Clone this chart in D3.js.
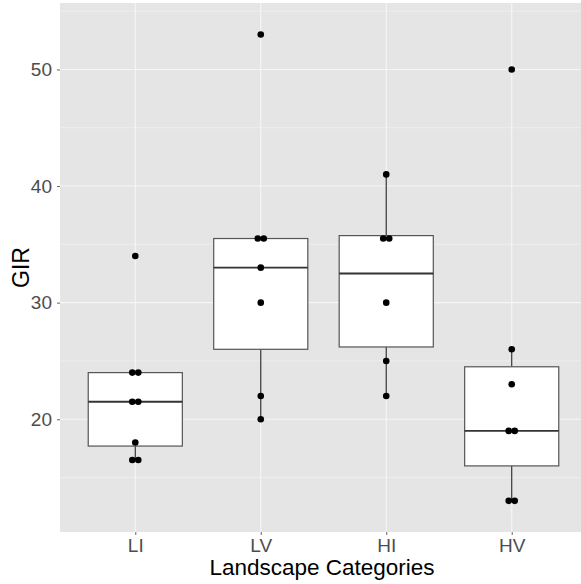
<!DOCTYPE html>
<html>
<head>
<meta charset="utf-8">
<script src="https://cdn.jsdelivr.net/npm/d3@7"></script>
<style>
  body { margin: 0; background: #fff; }
  svg { display: block; font-family: "Liberation Sans", Arial, sans-serif; }
</style>
</head>
<body>
<div class="chart"></div>
<script>
const categories = ["LI", "LV", "HI", "HV"];

// observations per category
const valuesLI = [16.5, 16.5, 18, 21.5, 21.5, 24, 24, 34];
const valuesLV = [20, 22, 30, 33, 35.5, 35.5, 53];
const valuesHI = [22, 25, 30, 35.5, 35.5, 41];
const valuesHV = [13, 13, 19, 19, 23, 26, 50];
const allValues = [valuesLI, valuesLV, valuesHI, valuesHV];

// box summaries
const q1 = [17.7, 26, 26.2, 16];
const medians = [21.5, 33, 32.5, 19];
const q3 = [24, 35.5, 35.75, 24.5];
const whiskerLow = [16.5, 20, 22, 13];
const whiskerHigh = [24, 35.5, 41, 26];

const yTicks = [20, 30, 40, 50];
const yMinor = [15, 25, 35, 45, 55];

const w = 581, h = 584;
const panel = {left: 60, top: 3, right: 587, bottom: 532};

const svg = d3.select('.chart').append('svg')
    .attr('width', w)
    .attr('height', h);

const x = d3.scalePoint()
    .domain(categories)
    .range([panel.left, panel.right])
    .padding(0.6);

const y = d3.scaleLinear()
    .domain([10.33, 55.7])
    .range([panel.bottom, panel.top]);

const boxW = x.step() * 0.75;

// panel background
svg.append('rect')
    .attr('x', panel.left)
    .attr('y', panel.top)
    .attr('width', panel.right - panel.left)
    .attr('height', panel.bottom - panel.top)
    .attr('fill', '#e5e5e5');

// grid
svg.append('g').selectAll('line.minor')
    .data(yMinor)
    .enter().append('line')
    .attr('x1', panel.left).attr('x2', panel.right)
    .attr('y1', d => y(d)).attr('y2', d => y(d))
    .attr('stroke', '#eeeeee')
    .attr('stroke-width', 1);

svg.append('g').selectAll('line.major')
    .data(yTicks)
    .enter().append('line')
    .attr('x1', panel.left).attr('x2', panel.right)
    .attr('y1', d => y(d)).attr('y2', d => y(d))
    .attr('stroke', '#f6f6f6')
    .attr('stroke-width', 1.1);

svg.append('g').selectAll('line.vgrid')
    .data(categories)
    .enter().append('line')
    .attr('x1', d => x(d)).attr('x2', d => x(d))
    .attr('y1', panel.top).attr('y2', panel.bottom)
    .attr('stroke', '#f6f6f6')
    .attr('stroke-width', 1.1);

// boxes
const boxes = svg.append('g').selectAll('g')
    .data(categories)
    .enter().append('g');

boxes.append('line')
    .attr('x1', d => x(d)).attr('x2', d => x(d))
    .attr('y1', (d, i) => y(whiskerHigh[i]))
    .attr('y2', (d, i) => y(q3[i]))
    .attr('stroke', '#333').attr('stroke-width', 1.2);

boxes.append('line')
    .attr('x1', d => x(d)).attr('x2', d => x(d))
    .attr('y1', (d, i) => y(q1[i]))
    .attr('y2', (d, i) => y(whiskerLow[i]))
    .attr('stroke', '#333').attr('stroke-width', 1.2);

boxes.append('rect')
    .attr('x', d => x(d) - boxW / 2)
    .attr('y', (d, i) => y(q3[i]))
    .attr('width', boxW)
    .attr('height', (d, i) => y(q1[i]) - y(q3[i]))
    .attr('fill', '#fff')
    .attr('stroke', '#555')
    .attr('stroke-width', 1.2);

boxes.append('line')
    .attr('x1', d => x(d) - boxW / 2).attr('x2', d => x(d) + boxW / 2)
    .attr('y1', (d, i) => y(medians[i])).attr('y2', (d, i) => y(medians[i]))
    .attr('stroke', '#333').attr('stroke-width', 1.8);

// points, equal values set side by side
const points = [];
categories.forEach((c, i) => {
    const groups = d3.group(allValues[i], v => v);
    groups.forEach((vals, v) => {
        vals.forEach((_, k) => {
            points.push({cat: c, value: v, dx: (k - (vals.length - 1) / 2) * 6});
        });
    });
});

svg.append('g').selectAll('circle')
    .data(points)
    .enter().append('circle')
    .attr('cx', d => x(d.cat) + d.dx)
    .attr('cy', d => y(d.value))
    .attr('r', 3.3)
    .attr('fill', '#000');

// axes
const yAxis = svg.append('g')
    .attr('transform', 'translate(' + panel.left + ',0)')
    .call(d3.axisLeft(y).tickValues(yTicks).tickSize(3).tickPadding(5).tickFormat(d3.format('d')));
yAxis.select('.domain').remove();
yAxis.selectAll('line').attr('stroke', '#666');
yAxis.selectAll('text').attr('fill', '#4d4d4d').style('font-size', '19px');

const xAxis = svg.append('g')
    .attr('transform', 'translate(0,' + panel.bottom + ')')
    .call(d3.axisBottom(x).tickSize(3).tickPadding(4));
xAxis.select('.domain').remove();
xAxis.selectAll('line').attr('stroke', '#666');
xAxis.selectAll('text').attr('fill', '#4d4d4d').style('font-size', '19px');

// titles
svg.append('text')
    .attr('x', (panel.left + panel.right) / 2 - 1.5)
    .attr('y', 575)
    .attr('text-anchor', 'middle')
    .attr('fill', '#000')
    .style('font-size', '22.5px')
    .text('Landscape Categories');

svg.append('text')
    .attr('transform', 'translate(29,' + (panel.top + panel.bottom) / 2 + ') rotate(-90)')
    .attr('text-anchor', 'middle')
    .attr('fill', '#000')
    .style('font-size', '23px')
    .text('GIR');
</script>
</body>
</html>
